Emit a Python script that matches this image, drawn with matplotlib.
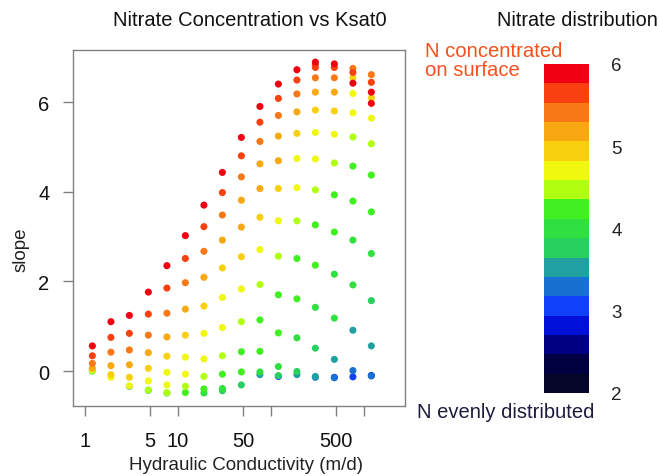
import matplotlib
matplotlib.use("Agg")
import matplotlib.pyplot as plt
import numpy as np
from matplotlib.colors import ListedColormap, Normalize
from matplotlib.cm import ScalarMappable

plt.rcParams['font.family'] = ['Liberation Sans', 'DejaVu Sans']

# Hydraulic conductivity (m/d) for each column of points
ksat = [1.2, 1.9, 3.0, 4.8, 7.6, 12, 19, 30, 48, 76, 120, 190, 300, 480, 760, 1200]

# slope values per column
slopes = [
    [0.56, 0.34, 0.17, 0.06, 0.02, 0.00],
    [1.10, 0.75, 0.42, 0.12, -0.08, -0.14],
    [1.24, 0.84, 0.47, 0.14, -0.14, -0.33, -0.34],
    [1.76, 1.27, 0.80, 0.41, 0.06, -0.22, -0.42, -0.43],
    [2.35, 1.85, 1.29, 0.76, 0.33, -0.03, -0.31, -0.48, -0.49],
    [3.02, 2.51, 1.97, 1.38, 0.80, 0.31, -0.07, -0.34, -0.48],
    [3.70, 3.22, 2.67, 2.09, 1.45, 0.84, 0.27, -0.12, -0.40, -0.49],
    [4.43, 3.98, 3.48, 2.92, 2.30, 1.64, 0.97, 0.34, -0.07, -0.39, -0.44],
    [5.21, 4.80, 4.33, 3.81, 3.21, 2.55, 1.83, 1.10, 0.43, -0.02, -0.31],
    [5.90, 5.55, 5.12, 4.62, 4.07, 3.43, 2.71, 1.93, 1.14, 0.44, -0.02, -0.08],
    [6.40, 6.08, 5.70, 5.24, 4.69, 4.07, 3.35, 2.56, 1.70, 0.85, 0.10, -0.10, -0.12],
    [6.72, 6.49, 6.18, 5.78, 5.30, 4.74, 4.09, 3.35, 2.51, 1.61, 0.74, -0.01, -0.08],
    [6.89, 6.83, 6.77, 6.54, 6.22, 5.82, 5.32, 4.73, 4.04, 3.26, 2.36, 1.42, 0.51, -0.12, -0.14],
    [6.85, 6.77, 6.54, 6.22, 5.80, 5.28, 4.64, 3.93, 3.10, 2.16, 1.18, 0.26, -0.14, -0.15],
    [6.75, 6.66, 6.54, 6.42, 6.19, 5.76, 5.22, 4.57, 3.79, 2.92, 1.92, 0.91, 0.01, -0.13],
    [6.61, 6.44, 6.22, 6.09, 5.97, 5.64, 5.07, 4.37, 3.55, 2.62, 1.57, 0.56, -0.10, -0.11],
]

# nitrate distribution value (colour) per point
nitrate = [
    [5.88, 5.65, 5.41, 5.18, 4.71, 4.24],
    [5.88, 5.65, 5.41, 5.18, 4.94, 4.71],
    [5.88, 5.65, 5.41, 5.18, 4.94, 4.71, 3.53],
    [5.88, 5.65, 5.41, 5.18, 4.94, 4.71, 4.47, 4.00],
    [5.88, 5.65, 5.41, 5.18, 4.94, 4.71, 4.71, 4.47, 4.00],
    [5.88, 5.65, 5.41, 5.18, 4.94, 4.71, 4.71, 4.47, 4.24],
    [5.88, 5.65, 5.41, 5.18, 4.94, 4.71, 4.71, 4.47, 4.24, 4.00],
    [5.88, 5.65, 5.41, 5.18, 4.94, 4.71, 4.71, 4.47, 4.24, 4.00, 3.76],
    [5.88, 5.65, 5.41, 5.18, 5.18, 4.94, 4.71, 4.47, 4.24, 4.24, 3.76],
    [5.88, 5.65, 5.41, 5.18, 5.18, 4.94, 4.71, 4.47, 4.24, 4.24, 4.00, 3.53],
    [5.88, 5.65, 5.41, 5.18, 5.18, 4.94, 4.71, 4.47, 4.24, 4.24, 4.00, 3.76, 3.06],
    [5.88, 5.65, 5.41, 5.18, 4.94, 4.71, 4.71, 4.47, 4.24, 4.24, 4.00, 3.76, 3.53],
    [5.88, 5.70, 5.65, 5.41, 5.18, 4.94, 4.71, 4.71, 4.47, 4.24, 4.24, 4.00, 3.76, 3.53, 3.29],
    [5.88, 5.65, 5.41, 5.18, 4.94, 4.71, 4.47, 4.24, 4.24, 4.00, 4.00, 3.53, 3.06, 3.29],
    [5.41, 5.65, 4.94, 5.88, 4.71, 4.71, 4.47, 4.24, 4.24, 4.00, 4.00, 3.53, 3.29, 3.06],
    [5.41, 5.65, 5.88, 4.94, 5.88, 4.71, 4.47, 4.24, 4.24, 4.00, 3.76, 3.53, 2.90, 3.29],
]

# stepped palette of the colour bar (from 2 up to 6)
palette = ['#05052a', '#000040', '#000080', '#0010d8', '#1040f8', '#1870d0',
           '#20a0a0', '#28d060', '#30e040', '#40f020', '#b0ff10', '#f0f810',
           '#f8d010', '#f8a810', '#f87818', '#f84010', '#f00010']

x_ticks = [1, 5, 10, 50, 100, 500, 1000]
x_tick_labels = ['1', '5', '10', '50', '', '500', '']
y_ticks = [0, 2, 4, 6]
cbar_ticks = [2, 3, 4, 5, 6]

cmap = ListedColormap(palette)
norm = Normalize(vmin=2, vmax=6)

xs, ys, vs = [], [], []
for k, sl, nv in zip(ksat, slopes, nitrate):
    for s, v in zip(sl, nv):
        xs.append(k)
        ys.append(s)
        vs.append(v)
xs = np.array(xs); ys = np.array(ys); vs = np.array(vs)
order = np.argsort(vs, kind='stable')

fig = plt.figure(figsize=(6.6, 4.77), dpi=100)
ax = fig.add_axes([73/660, 1-407/477, 332/660, 356/477])
ax.scatter(xs[order], ys[order], c=vs[order], cmap=cmap, norm=norm,
           s=26, linewidths=0, zorder=3)
ax.set_xscale('log')
ax.set_xlim(10**-0.129, 10**3.441)
ax.set_ylim(-0.78, 7.16)
ax.set_xticks(x_ticks)
ax.set_xticklabels(x_tick_labels)
ax.xaxis.set_minor_locator(matplotlib.ticker.NullLocator())
ax.set_yticks(y_ticks)
ax.set_yticklabels([str(t) for t in y_ticks])
gray = '#808080'
for sp in ax.spines.values():
    sp.set_color(gray)
    sp.set_linewidth(1.0)
ax.tick_params(axis='both', which='major', length=7, width=1.0, color=gray,
               labelsize=14.5, labelcolor='#111111', pad=10)
ax.tick_params(axis='x', pad=11)
ax.set_xlabel('Hydraulic Conductivity (m/d)', fontsize=13.5, color='#222222')
ax.xaxis.set_label_coords((246-73)/332, -(457-407)/356)
ax.set_ylabel('slope', fontsize=13.5, color='#222222')
ax.yaxis.set_label_coords(-43/332, (407-250)/356)

fig.text(250/660, 1-20/477, 'Nitrate Concentration vs Ksat0', ha='center', va='center',
         fontsize=14.5, color='#111111')

cax = fig.add_axes([544/660, 1-394/477, 45/660, 329/477])
cb = fig.colorbar(ScalarMappable(norm=norm, cmap=cmap), cax=cax, ticks=cbar_ticks)
cb.outline.set_visible(False)
cax.tick_params(length=0, labelsize=13.5, pad=16, labelcolor='#222222')

fig.text(577/660, 1-20/477, 'Nitrate distribution', ha='center', va='center',
         fontsize=14.3, color='#111111')
fig.text(425/660, 1-61/477, 'N concentrated\non surface', ha='left', va='center',
         fontsize=14.6, color='#f5501e', linespacing=1.0)
fig.text(417/660, 1-413/477, 'N evenly distributed', ha='left', va='center',
         fontsize=14.5, color='#1c1c3c')

fig.savefig('out.png', dpi=100)
